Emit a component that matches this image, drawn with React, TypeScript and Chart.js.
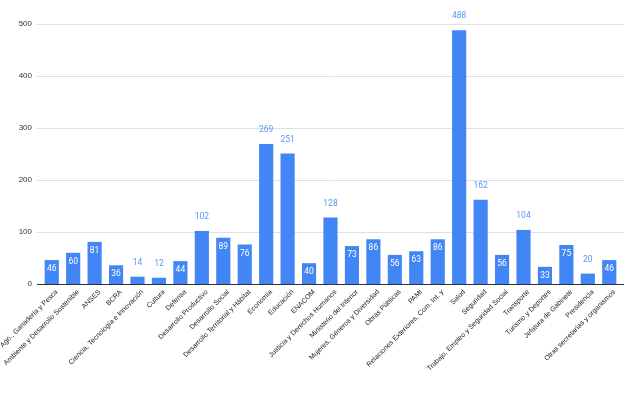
import React, { useEffect, useRef } from "react";
import { Chart, registerables } from "chart.js";

Chart.register(...registerables);

const categories = [
  "Agri., Ganadería y Pesca",
  "Ambiente y Desarrollo Sostenible",
  "ANSES",
  "BCRA",
  "Ciencia, Tecnología e Innovación",
  "Cultura",
  "Defensa",
  "Desarrollo Productivo",
  "Desarrollo Social",
  "Desarrollo Territorial y Hábitat",
  "Economía",
  "Educación",
  "ENACOM",
  "Justicia y Derechos Humanos",
  "Ministerio del Interior",
  "Mujeres, Géneros y Diversidad",
  "Obras Públicas",
  "PAMI",
  "Relaciones Exteriores, Com. Int. y",
  "Salud",
  "Seguridad",
  "Trabajo, Empleo y Seguridad Social",
  "Transporte",
  "Turismo y Deportes",
  "Jefatura de Gabinete",
  "Presidencia",
  "Otras secretarías y organismos",
];

const values = [46, 60, 81, 36, 14, 12, 44, 102, 89, 76, 269, 251, 40, 128, 73, 86, 56, 63, 86, 488, 162, 56, 104, 33, 75, 20, 46];

const yTicks = [0, 100, 200, 300, 400, 500];

const BAR = "#4285F4";

const gridPlugin = {
  id: "sheetsGrid",
  beforeDatasetsDraw(chart: any) {
    const { ctx, chartArea } = chart;
    const y = chart.scales.y;
    ctx.save();
    ctx.strokeStyle = "#e0e0e0";
    ctx.lineWidth = 1;
    yTicks.forEach((t) => {
      if (t === 0) return;
      const py = Math.round(y.getPixelForValue(t)) + 0.5;
      ctx.beginPath();
      ctx.moveTo(chartArea.left - 4, py);
      ctx.lineTo(chartArea.right + 4, py);
      ctx.stroke();
    });
    ctx.restore();
  },
  afterDatasetsDraw(chart: any) {
    const { ctx, chartArea } = chart;
    const y = chart.scales.y;
    ctx.save();
    ctx.strokeStyle = "#333333";
    ctx.lineWidth = 1;
    const py = Math.round(y.getPixelForValue(0)) + 0.5;
    ctx.beginPath();
    ctx.moveTo(chartArea.left - 4, py);
    ctx.lineTo(chartArea.right + 4, py);
    ctx.stroke();

    const meta = chart.getDatasetMeta(0);
    ctx.font = "8.5px Roboto, 'Liberation Sans', Arial, sans-serif";
    ctx.textAlign = "center";
    ctx.textBaseline = "middle";
    meta.data.forEach((bar: any, i: number) => {
      const v = values[i];
      const inside = v >= 25 && v <= 100;
      if (inside) {
        ctx.fillStyle = "#ffffff";
        ctx.fillText(String(v), bar.x, bar.y + 9);
      } else {
        ctx.fillStyle = "#5a97f6";
        ctx.fillText(String(v), bar.x, bar.y - 14);
      }
    });
    ctx.restore();
  },
};

export default function App() {
  const ref = useRef<HTMLCanvasElement | null>(null);
  useEffect(() => {
    document.body.style.margin = "0";
    const chart = new Chart(ref.current as HTMLCanvasElement, {
      type: "bar",
      data: {
        labels: categories,
        datasets: [
          {
            data: values,
            backgroundColor: BAR,
            borderWidth: 0,
            barPercentage: 0.66,
            categoryPercentage: 1,
          },
        ],
      },
      options: {
        animation: false,
        responsive: true,
        maintainAspectRatio: false,
        layout: { padding: { top: 24, right: 23, left: 0, bottom: 0 } },
        plugins: { legend: { display: false }, tooltip: { enabled: false } },
        scales: {
          x: {
            offset: true,
            grid: { display: false, drawTicks: false },
            border: { display: false },
            ticks: {
              autoSkip: false,
              maxRotation: 45,
              minRotation: 45,
              padding: 4,
              labelOffset: 5,
              color: "#222222",
              font: { family: "'Liberation Sans', Arial, sans-serif", size: 7 },
            },
            afterFit(scale: any) {
              scale.paddingLeft = 0;
              scale.paddingRight = 0;
              scale.height = 113;
            },
          },
          y: {
            min: 0,
            max: 500,
            grid: { display: false, drawTicks: false },
            border: { display: false },
            ticks: {
              stepSize: 100,
              padding: 9,
              color: "#333333",
              font: { family: "'Liberation Sans', Arial, sans-serif", size: 8 },
            },
            afterFit(scale: any) {
              scale.width = 41;
            },
          },
        },
      },
      plugins: [gridPlugin],
    });
    return () => chart.destroy();
  }, []);
  return (
    <div style={{ position: "relative", width: 643, height: 397 }}>
      <canvas ref={ref} />
    </div>
  );
}
